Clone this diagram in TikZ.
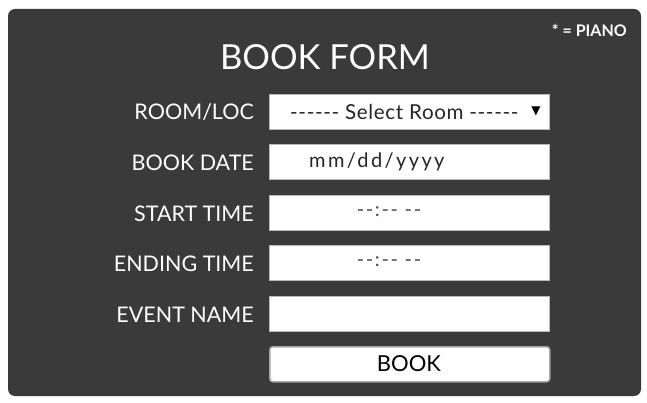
\documentclass[tikz,border=0pt]{standalone}
\usepackage{fontspec}
\setmainfont{Lato}
\newfontfamily\symfont{DejaVu Sans}
\newfontfamily\widefont[LetterSpace=12]{Lato}
\newfontfamily\timefont[LetterSpace=8]{Lato}
\newfontfamily\selfont[LetterSpace=3]{Lato}
\definecolor{panel}{HTML}{3B3A3A}
\definecolor{fieldborder}{HTML}{B8B8B8}
\tikzset{
  lbl/.style={anchor=east, text=white, font=\fontsize{21.5}{21.5}\selectfont, inner sep=0pt},
  field/.style={draw=fieldborder, line width=1pt, fill=white, minimum width=280pt, minimum height=35pt, anchor=north west, inner sep=0pt},
  ftext/.style={text=black!85, font=\fontsize{20}{20}\selectfont, inner sep=0pt},
}
\begin{document}
\begin{tikzpicture}[x=1pt,y=-1pt]
\useasboundingbox (0,0) rectangle (647,403);
\fill[white] (0,0) rectangle (647,403);
\fill[panel, rounded corners=7pt] (8,9) rectangle (641,396);
\node[text=white, font=\fontsize{34.5}{34.5}\selectfont, inner sep=0pt] (title) at (325,57) {BOOK FORM};
\node[text=white, font=\bfseries\fontsize{16}{16}\selectfont, anchor=east, inner sep=0pt] (piano) at (627,31) {* = PIANO};
% fields
\node[field] (room) at (269,94) {};
\node[field] (date) at (269,144) {};
\node[field] (start) at (269,195) {};
\node[field] (end) at (269,245) {};
\node[field] (event) at (269,296) {};
\node[field, rounded corners=3pt, draw=gray!70, line width=1.5pt] (book) at (269,346) {};
% labels
\node[lbl] (lroom) at (254,112) {ROOM/LOC};
\node[lbl] (ldate) at (254,163) {BOOK DATE};
\node[lbl] (lstart) at (254,214) {START TIME};
\node[lbl] (lend) at (254,264) {ENDING TIME};
\node[lbl] (levent) at (254,315) {EVENT NAME};
% field contents
\node[ftext, anchor=west, font=\selfont\fontsize{20.6}{20.6}\selectfont] (troom) at (290,112) {-{}-{}-{}-{}-{}- Select Room -{}-{}-{}-{}-{}-};
\node[text=black, font=\symfont\fontsize{12}{12}\selectfont, inner sep=0pt] (arrow) at (536,111) {▼};
\node[ftext, anchor=west, font=\widefont\fontsize{20}{20}\selectfont] (tdate) at (309,162) {mm/dd/yyyy};
\node[ftext, text=black!70, font=\timefont\fontsize{20}{20}\selectfont] (tstart) at (389,212) {-{}-:-{}- -{}-};
\node[ftext, text=black!70, font=\timefont\fontsize{20}{20}\selectfont] (tend) at (389,262) {-{}-:-{}- -{}-};
\node[ftext, text=black, font=\fontsize{22}{22}\selectfont] (tbook) at (409,364) {BOOK};
\end{tikzpicture}
\end{document}
